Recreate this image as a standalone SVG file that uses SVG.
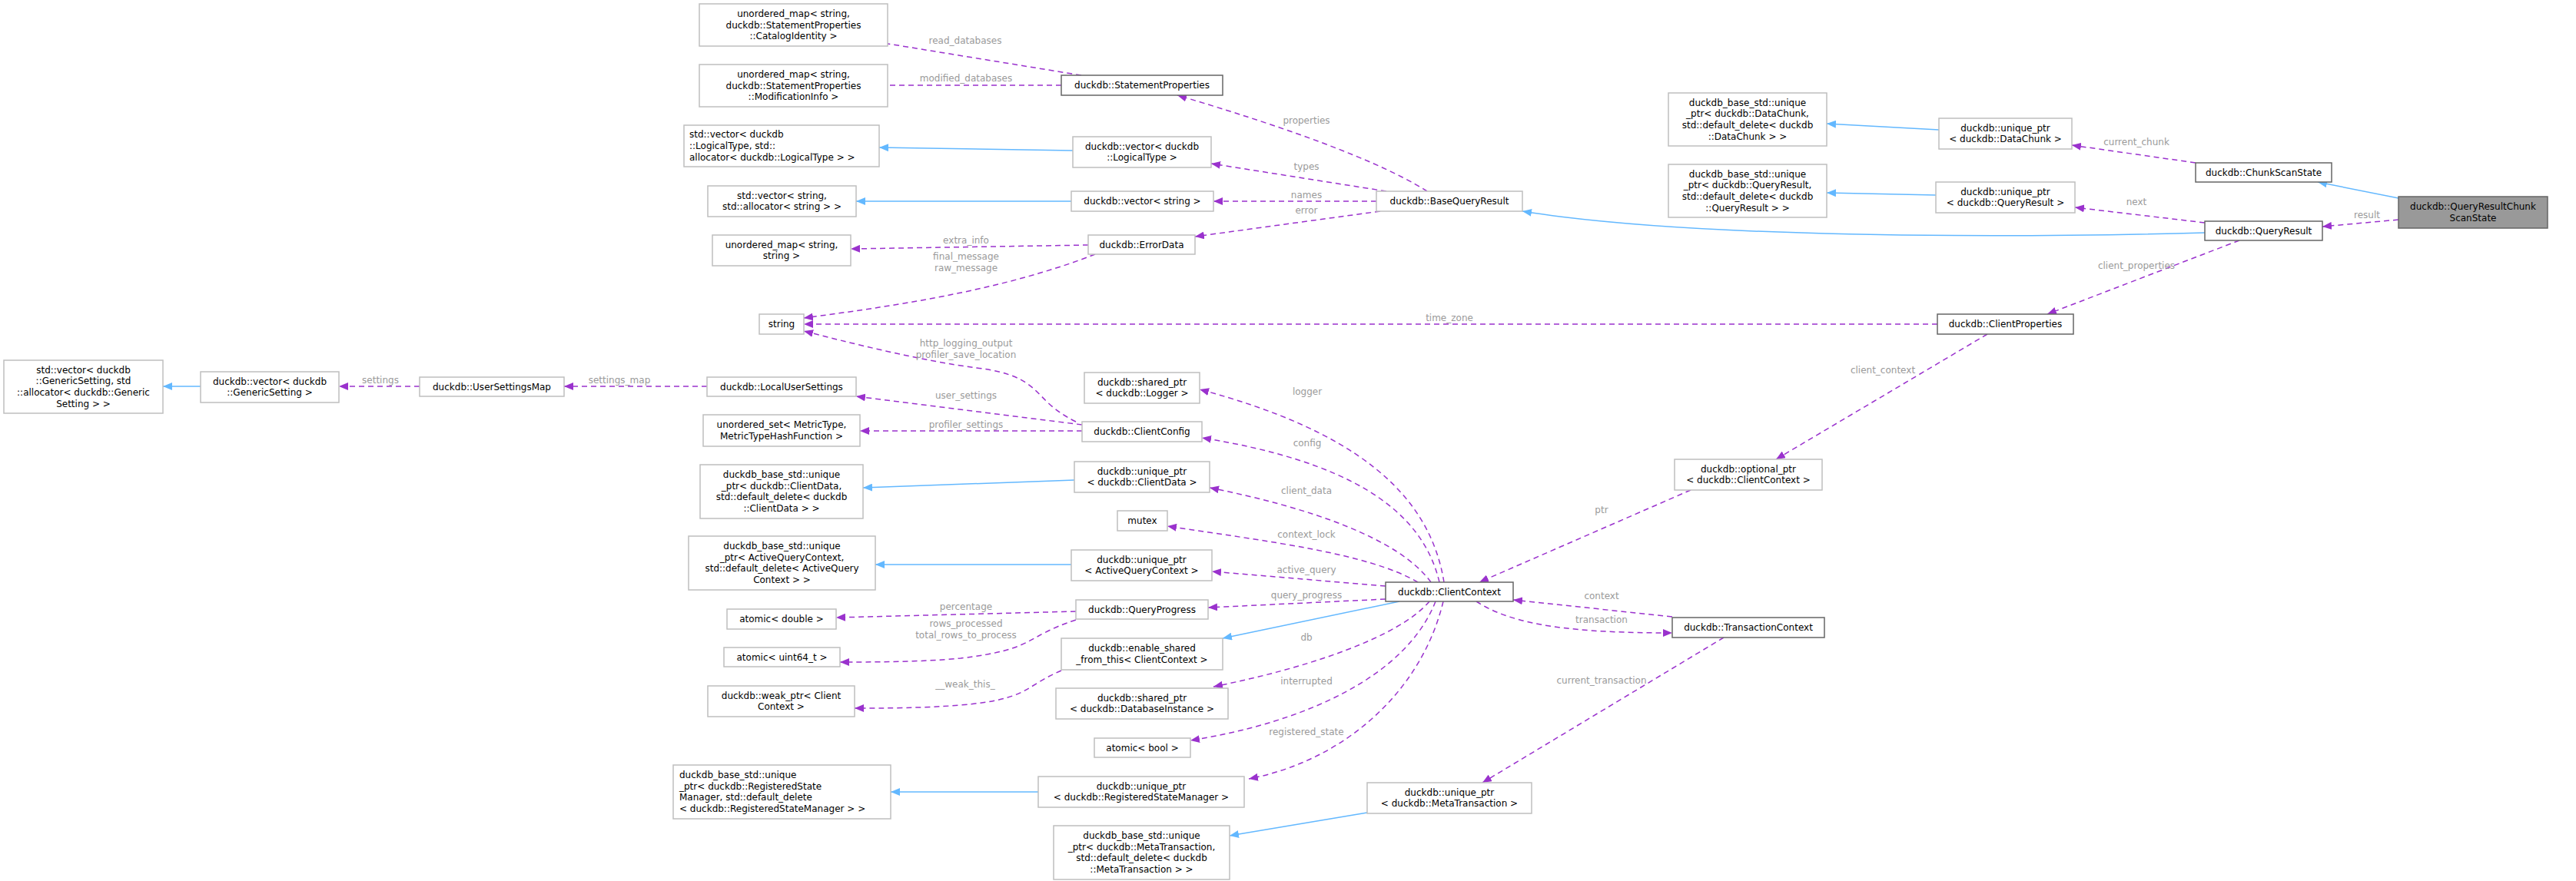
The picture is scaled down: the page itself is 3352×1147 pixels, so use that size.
<svg xmlns="http://www.w3.org/2000/svg" width="3352" height="1147" viewBox="0 0 3352 1147">
<style>
text{font-family:"DejaVu Sans","Liberation Sans",sans-serif;font-size:12px;fill:#000}
.n rect{fill:#fff;stroke:#bfbfbf;stroke-width:1.5}
.d rect{stroke:#666}
.f rect{fill:#999}
.c{text-anchor:middle}
.l{text-anchor:start}
.lb{fill:#9a9a9a;text-anchor:middle}
.p{fill:none;stroke:#9a32cd;stroke-width:1.5;stroke-dasharray:7,5;marker-end:url(#ap)}
.b{fill:none;stroke:#63b8ff;stroke-width:1.5;marker-end:url(#ab)}
</style>
<defs>
<marker id="ap" markerWidth="13" markerHeight="10" refX="12" refY="5" orient="auto" markerUnits="userSpaceOnUse"><path d="M0,0L12,5L0,10z" fill="#9a32cd"/></marker>
<marker id="ab" markerWidth="13" markerHeight="10" refX="12" refY="5" orient="auto" markerUnits="userSpaceOnUse"><path d="M0,0L12,5L0,10z" fill="#63b8ff"/></marker>
</defs>
<rect width="3352" height="1147" fill="#fff"/>
<g id="edges">
<path class="p" d="M1407,98L1125,52"/><text class="lb" x="1256" y="57">read_databases</text>
<path class="p" d="M1381,111L1125,111"/><text class="lb" x="1257" y="106">modified_databases</text>
<path class="b" d="M1396,196L1144,192"/>
<path class="b" d="M1394,262L1114,262"/>
<path class="p" d="M1857,249C1780,200 1620,150 1532,124"/><text class="lb" x="1700" y="161">properties</text>
<path class="p" d="M1804,249L1576,213"/><text class="lb" x="1700" y="221">types</text>
<path class="p" d="M1791,262L1579,262"/><text class="lb" x="1700" y="258">names</text>
<path class="p" d="M1796,275L1555,308"/><text class="lb" x="1700" y="278">error</text>
<path class="p" d="M1416,319L1107,324"/><text class="lb" x="1257" y="317">extra_info</text>
<path class="p" d="M1425,331C1300,380 1150,400 1046,414"/><text class="lb" x="1257" y="338">final_message</text><text class="lb" x="1257" y="353">raw_message</text>
<path class="p" d="M2521,422L1046,422"/><text class="lb" x="1886" y="418">time_zone</text>
<path class="p" d="M1400,549C1340,520 1360,490 1271,479C1200,470 1100,445 1046,431"/><text class="lb" x="1257" y="451">http_logging_output</text><text class="lb" x="1257" y="466">profiler_save_location</text>
<path class="p" d="M1408,553L1114,516"/><text class="lb" x="1257" y="519">user_settings</text>
<path class="p" d="M1408,561L1119,561"/><text class="lb" x="1257" y="557">profiler_settings</text>
<path class="p" d="M920,503L734,503"/><text class="lb" x="806" y="499">settings_map</text>
<path class="p" d="M546,503L441,503"/><text class="lb" x="495" y="499">settings</text>
<path class="b" d="M261,503L212,503"/>
<path class="p" d="M1879,758C1860,640 1760,560 1561,507"/><text class="lb" x="1701" y="514">logger</text>
<path class="p" d="M1873,758C1850,660 1750,600 1564,570"/><text class="lb" x="1701" y="581">config</text>
<path class="p" d="M1862,758C1820,700 1700,660 1574,635"/><text class="lb" x="1700" y="643">client_data</text>
<path class="p" d="M1845,758C1780,720 1650,705 1519,685"/><text class="lb" x="1700" y="700">context_lock</text>
<path class="p" d="M1803,763L1577,744"/><text class="lb" x="1700" y="746">active_query</text>
<path class="p" d="M1803,780L1572,791"/><text class="lb" x="1700" y="779">query_progress</text>
<path class="p" d="M1400,796L1088,804"/><text class="lb" x="1257" y="794">percentage</text>
<path class="p" d="M1400,807C1330,830 1350,845 1250,857C1200,862 1130,862 1093,862"/><text class="lb" x="1257" y="816">rows_processed</text><text class="lb" x="1257" y="831">total_rows_to_process</text>
<path class="b" d="M1821,783L1591,831"/>
<path class="p" d="M1381,873C1330,895 1340,910 1250,918C1200,922 1150,922 1112,922"/><text class="lb" x="1256" y="895">__weak_this_</text>
<path class="p" d="M1860,783C1820,830 1700,870 1579,894"/><text class="lb" x="1700" y="834">db</text>
<path class="p" d="M1868,783C1830,880 1700,940 1549,964"/><text class="lb" x="1700" y="891">interrupted</text>
<path class="p" d="M1878,783C1850,900 1750,990 1625,1014"/><text class="lb" x="1700" y="957">registered_state</text>
<path class="b" d="M1394,735L1139,735"/>
<path class="b" d="M1398,625L1123,635"/>
<path class="b" d="M1351,1031L1159,1031"/>
<path class="b" d="M1779,1058L1600,1088"/>
<path class="p" d="M2176,803L1969,781"/><text class="lb" x="2084" y="780">context</text>
<path class="p" d="M1921,783C1970,815 2050,824 2176,824"/><text class="lb" x="2084" y="811">transaction</text>
<path class="p" d="M2200,638L1925,758"/><text class="lb" x="2084" y="668">ptr</text>
<path class="p" d="M2243,830L1929,1019"/><text class="lb" x="2084" y="890">current_transaction</text>
<path class="p" d="M2586,435L2311,598"/><text class="lb" x="2450" y="486">client_context</text>
<path class="p" d="M2914,313L2664,409"/><text class="lb" x="2780" y="350">client_properties</text>
<path class="p" d="M2869,290L2700,270"/><text class="lb" x="2780" y="267">next</text>
<path class="b" d="M2869,303C2600,310 2200,310 1981,275"/>
<path class="p" d="M2857,212L2696,189"/><text class="lb" x="2780" y="189">current_chunk</text>
<path class="b" d="M3121,258L3016,237"/>
<path class="p" d="M3121,286L3022,295"/><text class="lb" x="3080" y="284">result</text>
<path class="b" d="M2523,169L2377,161"/>
<path class="b" d="M2519,254L2377,251"/>
</g>
<g id="n1" class="n"><rect x="910" y="5" width="245" height="55"/><text class="c" x="1032.5" y="21.8">unordered_map&lt; string,</text><text class="c" x="1032.5" y="36.5"> duckdb::StatementProperties</text><text class="c" x="1032.5" y="51.2">::CatalogIdentity &gt;</text></g>
<g id="n2" class="n"><rect x="910" y="84" width="245" height="55"/><text class="c" x="1032.5" y="100.8">unordered_map&lt; string,</text><text class="c" x="1032.5" y="115.5"> duckdb::StatementProperties</text><text class="c" x="1032.5" y="130.2">::ModificationInfo &gt;</text></g>
<g id="n3" class="n"><rect x="890" y="163" width="254" height="54"/><text class="l" x="897" y="179.3">std::vector&lt; duckdb</text><text class="l" x="897" y="194">::LogicalType, std::</text><text class="l" x="897" y="208.7">allocator&lt; duckdb::LogicalType &gt; &gt;</text></g>
<g id="n4" class="n"><rect x="921" y="242" width="193" height="40"/><text class="c" x="1017.5" y="258.6">std::vector&lt; string,</text><text class="c" x="1017.5" y="273.3"> std::allocator&lt; string &gt; &gt;</text></g>
<g id="n5" class="n"><rect x="927" y="306" width="180" height="40"/><text class="c" x="1017" y="322.6">unordered_map&lt; string,</text><text class="c" x="1017" y="337.3"> string &gt;</text></g>
<g id="n6" class="n"><rect x="988" y="409" width="58" height="26"/><text class="c" x="1017" y="426">string</text></g>
<g id="n7" class="n"><rect x="5" y="469" width="207" height="69"/><text class="c" x="108.5" y="485.5">std::vector&lt; duckdb</text><text class="c" x="108.5" y="500.2">::GenericSetting, std</text><text class="c" x="108.5" y="514.9">::allocator&lt; duckdb::Generic</text><text class="c" x="108.5" y="529.6">Setting &gt; &gt;</text></g>
<g id="n8" class="n"><rect x="261" y="484" width="180" height="40"/><text class="c" x="351" y="500.6">duckdb::vector&lt; duckdb</text><text class="c" x="351" y="515.3">::GenericSetting &gt;</text></g>
<g id="n9" class="n"><rect x="546" y="491" width="188" height="25"/><text class="c" x="640" y="507.5">duckdb::UserSettingsMap</text></g>
<g id="n10" class="n"><rect x="920" y="491" width="194" height="25"/><text class="c" x="1017" y="507.5">duckdb::LocalUserSettings</text></g>
<g id="n11" class="n"><rect x="915" y="540" width="204" height="41"/><text class="c" x="1017" y="557.2">unordered_set&lt; MetricType,</text><text class="c" x="1017" y="571.9"> MetricTypeHashFunction &gt;</text></g>
<g id="n12" class="n"><rect x="911" y="605" width="212" height="70"/><text class="c" x="1017" y="622">duckdb_base_std::unique</text><text class="c" x="1017" y="636.7">_ptr&lt; duckdb::ClientData,</text><text class="c" x="1017" y="651.4"> std::default_delete&lt; duckdb</text><text class="c" x="1017" y="666.1">::ClientData &gt; &gt;</text></g>
<g id="n13" class="n"><rect x="896" y="698" width="243" height="70"/><text class="c" x="1017.5" y="715">duckdb_base_std::unique</text><text class="c" x="1017.5" y="729.7">_ptr&lt; ActiveQueryContext,</text><text class="c" x="1017.5" y="744.4"> std::default_delete&lt; ActiveQuery</text><text class="c" x="1017.5" y="759.1">Context &gt; &gt;</text></g>
<g id="n14" class="n"><rect x="946" y="793" width="142" height="26"/><text class="c" x="1017" y="810">atomic&lt; double &gt;</text></g>
<g id="n15" class="n"><rect x="942" y="843" width="151" height="25"/><text class="c" x="1017.5" y="859.5">atomic&lt; uint64_t &gt;</text></g>
<g id="n16" class="n"><rect x="921" y="893" width="191" height="40"/><text class="c" x="1016.5" y="909.6">duckdb::weak_ptr&lt; Client</text><text class="c" x="1016.5" y="924.3">Context &gt;</text></g>
<g id="n17" class="n"><rect x="876" y="996" width="283" height="70"/><text class="l" x="884" y="1013">duckdb_base_std::unique</text><text class="l" x="884" y="1027.7">_ptr&lt; duckdb::RegisteredState</text><text class="l" x="884" y="1042.4">Manager, std::default_delete</text><text class="l" x="884" y="1057.1">&lt; duckdb::RegisteredStateManager &gt; &gt;</text></g>
<g id="n18" class="n d"><rect x="1381" y="98" width="210" height="26"/><text class="c" x="1486" y="115">duckdb::StatementProperties</text></g>
<g id="n19" class="n"><rect x="1396" y="178" width="180" height="40"/><text class="c" x="1486" y="194.6">duckdb::vector&lt; duckdb</text><text class="c" x="1486" y="209.3">::LogicalType &gt;</text></g>
<g id="n20" class="n"><rect x="1394" y="249" width="185" height="26"/><text class="c" x="1486.5" y="266">duckdb::vector&lt; string &gt;</text></g>
<g id="n21" class="n"><rect x="1416" y="306" width="139" height="25"/><text class="c" x="1485.5" y="322.5">duckdb::ErrorData</text></g>
<g id="n22" class="n"><rect x="1411" y="485" width="150" height="40"/><text class="c" x="1486" y="501.6">duckdb::shared_ptr</text><text class="c" x="1486" y="516.3">&lt; duckdb::Logger &gt;</text></g>
<g id="n23" class="n"><rect x="1408" y="549" width="156" height="26"/><text class="c" x="1486" y="566">duckdb::ClientConfig</text></g>
<g id="n24" class="n"><rect x="1398" y="601" width="176" height="40"/><text class="c" x="1486" y="617.6">duckdb::unique_ptr</text><text class="c" x="1486" y="632.3">&lt; duckdb::ClientData &gt;</text></g>
<g id="n25" class="n"><rect x="1454" y="665" width="65" height="26"/><text class="c" x="1486.5" y="682">mutex</text></g>
<g id="n26" class="n"><rect x="1394" y="716" width="183" height="40"/><text class="c" x="1485.5" y="732.6">duckdb::unique_ptr</text><text class="c" x="1485.5" y="747.3">&lt; ActiveQueryContext &gt;</text></g>
<g id="n27" class="n"><rect x="1400" y="781" width="172" height="25"/><text class="c" x="1486" y="797.5">duckdb::QueryProgress</text></g>
<g id="n28" class="n"><rect x="1381" y="831" width="210" height="41"/><text class="c" x="1486" y="848.2">duckdb::enable_shared</text><text class="c" x="1486" y="862.9">_from_this&lt; ClientContext &gt;</text></g>
<g id="n29" class="n"><rect x="1374" y="896" width="224" height="40"/><text class="c" x="1486" y="912.6">duckdb::shared_ptr</text><text class="c" x="1486" y="927.3">&lt; duckdb::DatabaseInstance &gt;</text></g>
<g id="n30" class="n"><rect x="1424" y="961" width="125" height="25"/><text class="c" x="1486.5" y="977.5">atomic&lt; bool &gt;</text></g>
<g id="n31" class="n"><rect x="1351" y="1011" width="268" height="40"/><text class="c" x="1485" y="1027.6">duckdb::unique_ptr</text><text class="c" x="1485" y="1042.3">&lt; duckdb::RegisteredStateManager &gt;</text></g>
<g id="n32" class="n"><rect x="1371" y="1075" width="229" height="70"/><text class="c" x="1485.5" y="1092">duckdb_base_std::unique</text><text class="c" x="1485.5" y="1106.7">_ptr&lt; duckdb::MetaTransaction,</text><text class="c" x="1485.5" y="1121.4"> std::default_delete&lt; duckdb</text><text class="c" x="1485.5" y="1136.1">::MetaTransaction &gt; &gt;</text></g>
<g id="n33" class="n"><rect x="1791" y="249" width="190" height="26"/><text class="c" x="1886" y="266">duckdb::BaseQueryResult</text></g>
<g id="n34" class="n d"><rect x="1803" y="758" width="166" height="25"/><text class="c" x="1886" y="774.5">duckdb::ClientContext</text></g>
<g id="n35" class="n"><rect x="1779" y="1019" width="214" height="40"/><text class="c" x="1886" y="1035.6">duckdb::unique_ptr</text><text class="c" x="1886" y="1050.3">&lt; duckdb::MetaTransaction &gt;</text></g>
<g id="n36" class="n"><rect x="2171" y="121" width="206" height="69"/><text class="c" x="2274" y="137.5">duckdb_base_std::unique</text><text class="c" x="2274" y="152.2">_ptr&lt; duckdb::DataChunk,</text><text class="c" x="2274" y="166.9"> std::default_delete&lt; duckdb</text><text class="c" x="2274" y="181.6">::DataChunk &gt; &gt;</text></g>
<g id="n37" class="n"><rect x="2171" y="214" width="206" height="69"/><text class="c" x="2274" y="230.5">duckdb_base_std::unique</text><text class="c" x="2274" y="245.2">_ptr&lt; duckdb::QueryResult,</text><text class="c" x="2274" y="259.9"> std::default_delete&lt; duckdb</text><text class="c" x="2274" y="274.6">::QueryResult &gt; &gt;</text></g>
<g id="n38" class="n"><rect x="2179" y="598" width="192" height="40"/><text class="c" x="2275" y="614.6">duckdb::optional_ptr</text><text class="c" x="2275" y="629.3">&lt; duckdb::ClientContext &gt;</text></g>
<g id="n39" class="n d"><rect x="2176" y="804" width="198" height="26"/><text class="c" x="2275" y="821">duckdb::TransactionContext</text></g>
<g id="n40" class="n d"><rect x="2521" y="409" width="177" height="26"/><text class="c" x="2609.5" y="426">duckdb::ClientProperties</text></g>
<g id="n41" class="n"><rect x="2523" y="154" width="173" height="40"/><text class="c" x="2609.5" y="170.6">duckdb::unique_ptr</text><text class="c" x="2609.5" y="185.3">&lt; duckdb::DataChunk &gt;</text></g>
<g id="n42" class="n"><rect x="2519" y="237" width="181" height="40"/><text class="c" x="2609.5" y="253.6">duckdb::unique_ptr</text><text class="c" x="2609.5" y="268.3">&lt; duckdb::QueryResult &gt;</text></g>
<g id="n43" class="n d"><rect x="2857" y="212" width="177" height="25"/><text class="c" x="2945.5" y="228.5">duckdb::ChunkScanState</text></g>
<g id="n44" class="n d"><rect x="2869" y="288" width="153" height="25"/><text class="c" x="2945.5" y="304.5">duckdb::QueryResult</text></g>
<g id="n45" class="n d f"><rect x="3121" y="256" width="194" height="41"/><text class="c" x="3218" y="273.2">duckdb::QueryResultChunk</text><text class="c" x="3218" y="287.9">ScanState</text></g>
</svg>
